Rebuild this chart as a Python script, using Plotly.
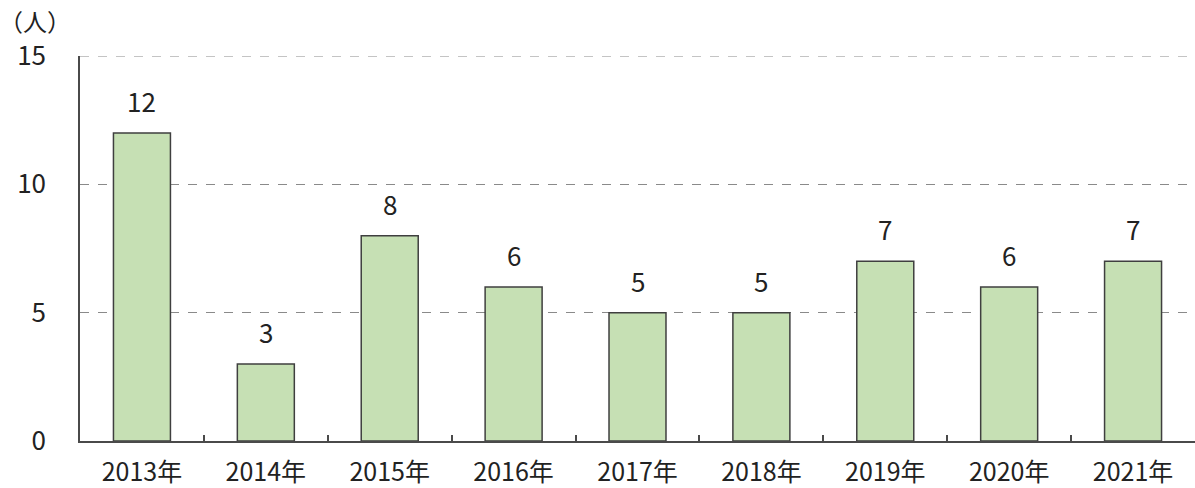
import plotly.graph_objects as go

# Yearly head count
years = ["2013年", "2014年", "2015年", "2016年", "2017年", "2018年", "2019年", "2020年", "2021年"]
counts = [12, 3, 8, 6, 5, 5, 7, 6, 7]
y_ticks = [0, 5, 10, 15]

LABEL_FONT = "Noto Sans CJK JP, sans-serif"

fig = go.Figure(
    go.Bar(
        x=years,
        y=counts,
        width=0.46,
        marker=dict(color="#c6e0b4", line=dict(color="#3f3f3f", width=1.5)),
        hoverinfo="x+y",
    )
)

# value labels above each bar
for yr, v in zip(years, counts):
    fig.add_annotation(
        x=yr, y=v, text=str(v), showarrow=False,
        yanchor="bottom", yshift=12,
        font=dict(family=LABEL_FONT, size=26, color="#222222"),
    )

# unit label
fig.add_annotation(
    xref="paper", yref="paper", x=-0.074, y=1.0, yshift=55,
    text="（人）", showarrow=False, xanchor="left", yanchor="top",
    font=dict(family=LABEL_FONT, size=24, color="#222222"),
)

# dashed line at the top of the scale
fig.add_shape(
    type="line", xref="paper", yref="y", x0=0, x1=1, y0=y_ticks[-1], y1=y_ticks[-1],
    line=dict(color="#8a8a8a", width=1, dash="dash"), layer="below",
)

fig.update_layout(
    width=1195, height=488,
    margin=dict(l=80, r=0, t=56, b=47),
    paper_bgcolor="white", plot_bgcolor="white",
    showlegend=False,
    font=dict(family=LABEL_FONT, size=26, color="#222222"),
)

fig.update_xaxes(
    range=[-0.5, 8.5], automargin=False,
    showline=True, linecolor="#4a4a4a", linewidth=1.5,
    tickson="boundaries", ticks="inside", ticklen=6, tickcolor="#4a4a4a", tickwidth=1.5,
    ticklabelstandoff=8,
    showgrid=False,
    tickfont=dict(family=LABEL_FONT, size=25, color="#222222"),
)

fig.update_yaxes(
    range=[0, 15], automargin=False,
    tickvals=y_ticks, ticktext=[str(t) for t in y_ticks],
    showline=True, linecolor="#4a4a4a", linewidth=1.5,
    showgrid=True, gridcolor="#8a8a8a", gridwidth=1, griddash="dash",
    zeroline=False,
    ticks="", ticklabelstandoff=27,
    tickfont=dict(family=LABEL_FONT, size=26, color="#222222"),
)

fig.write_html("out.html")
